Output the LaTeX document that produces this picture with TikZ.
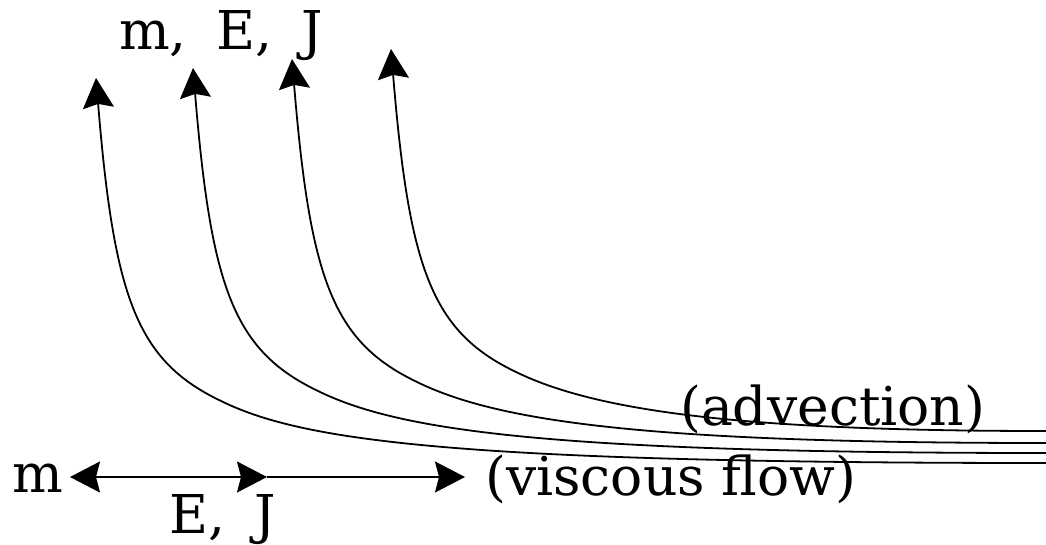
\documentclass[tikz,border=0pt]{standalone}
\usepackage{fontspec}
\setmainfont{DejaVu Serif}
\usetikzlibrary{arrows.meta}
\begin{document}
\begin{tikzpicture}[x=1pt,y=-1pt,
  flow/.style={line width=1.8pt,-{Stealth[length=30pt,width=31pt,inset=4pt]}},
  both/.style={line width=1.8pt,{Stealth[length=30pt,width=31pt,inset=4pt]}-{Stealth[length=30pt,width=31pt,inset=4pt]}},
  lbl/.style={font=\fontsize{53.5}{60}\selectfont, anchor=base west, inner sep=0pt}]
\useasboundingbox (0,0) rectangle (1046,544);
% streamlines
\foreach \i/\dx/\dy/\R in {1/0/0/463, 2/97/-10/453, 3/196/-19/443, 4/295/-29/431}{
  \coordinate (r\i) at (1046,\R);
  \coordinate (a\i) at (446+\dx,\R);
  \coordinate (b\i) at (299+\dx,440+\dy);
  \coordinate (k\i) at (219+\dx,400+\dy);
  \coordinate (c\i) at (137+\dx,360+\dy);
  \coordinate (d\i) at (114+\dx,298+\dy);
  \coordinate (t\i) at (96+\dx,78+\dy);
  \draw[flow] (r\i) .. controls (a\i) and (b\i) .. (k\i) .. controls (c\i) and (d\i) .. (t\i);
}
% labels
\node[lbl] (top) at (119,49) {m,\hspace{0.55em}E,\hspace{0.55em}J};
\node[lbl] (mlab) at (12,492) {m};
\node[lbl] (ej) at (169,533) {E,\hspace{0.55em}J};
\node[lbl] (visc) at (485,495) {(viscous flow)};
\node[lbl] (adv) at (680,425) {(advection)};
% horizontal flux arrows
\coordinate (hl) at (70,477);
\coordinate (hm) at (267,477);
\coordinate (hr) at (465,477);
\draw[both] (hl) -- (hm);
\draw[flow] (hm) -- (hr);
\end{tikzpicture}
\end{document}
